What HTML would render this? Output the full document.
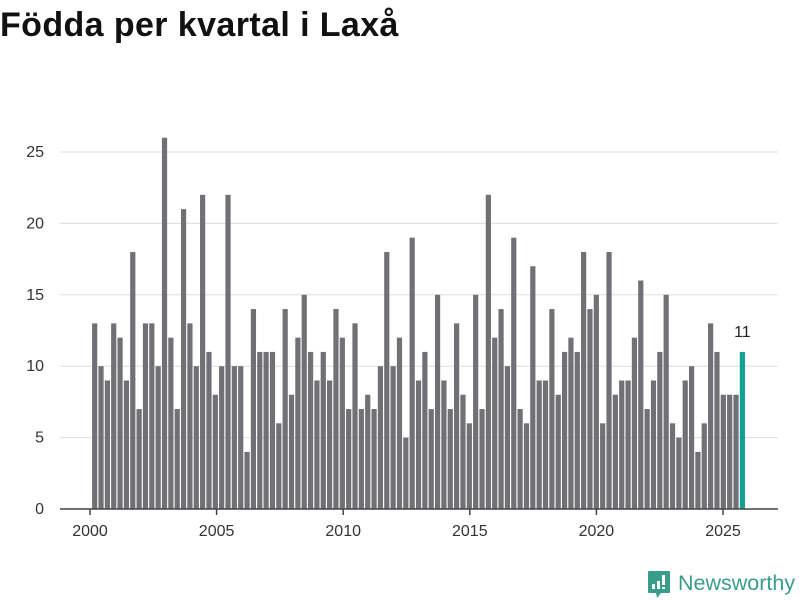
<!DOCTYPE html>
<html><head><meta charset="utf-8"><style>
body{margin:0;width:800px;height:600px;background:#fff;font-family:"Liberation Sans",sans-serif;overflow:hidden}
h1{position:absolute;left:0;top:6px;margin:0;font-size:34px;letter-spacing:0.4px;font-weight:bold;color:#111}
</style></head><body>
<h1>Födda per kvartal i Laxå</h1>
<svg id="chart" width="800" height="600" style="position:absolute;left:0;top:0"></svg>
<script>
const years = [2000,2001,2002,2003,2004,2005,2006,2007,2008,2009,2010,2011,2012,2013,2014,2015,2016,2017,2018,2019,2020,2021,2022,2023,2024,2025];
const values = [13,10,9,13, 12,9,18,7, 13,13,10,26, 12,7,21,13, 10,22,11,8, 10,22,10,10, 4,14,11,11, 11,6,14,8, 12,15,11,9, 11,9,14,12, 7,13,7,8, 7,10,18,10, 12,5,19,9, 11,7,15,9, 7,13,8,6, 15,7,22,12, 14,10,19,7, 6,17,9,9, 14,8,11,12, 11,18,14,15, 6,18,8,9, 9,12,16,7, 9,11,15,6, 5,9,10,4, 6,13,11,8, 8,8,11];
const yTicks = [0,5,10,15,20,25];
const xTicks = [2000,2005,2010,2015,2020,2025];
const NS="http://www.w3.org/2000/svg", svg=document.getElementById('chart');
const x0=90, perYear=25.32, y0=509, perUnit=14.28;
const xs=t=>x0+(t-2000)*perYear, ys=v=>y0-v*perUnit;
const bx=i=>x0+1.5+(i+0.5)*6.35;
function mk(tag,attrs){const e=document.createElementNS(NS,tag);for(const k in attrs)e.setAttribute(k,attrs[k]);svg.appendChild(e);return e;}
yTicks.forEach(t=>{
  if(t>0){const l=mk('line',{x1:60,x2:778,y1:ys(t),y2:ys(t),stroke:'#ddd','stroke-width':1});
  
  }
  const tx=mk('text',{x:44,y:ys(t)+5,'text-anchor':'end','font-size':16,fill:'#333','font-family':'Liberation Sans'});
  tx.textContent=t;
  
  
});
values.forEach((v,i)=>{
  const last=i===values.length-1;
  const r=mk('rect',{x:bx(i)-2.6,y:ys(v),width:5.2,height:v*perUnit,fill:last?'#10a096':'#717075'});
  
  
  if(last){const t=mk('text',{x:bx(i),y:ys(v)-15,'text-anchor':'middle','font-size':16,fill:'#222','font-family':'Liberation Sans'});t.textContent=v;
  
  }
});
const ax=mk('line',{x1:60,x2:778,y1:y0,y2:y0,stroke:'#444','stroke-width':1.5});


xTicks.forEach(t=>{
  const tk=mk('line',{x1:xs(t),x2:xs(t),y1:y0,y2:y0+6,stroke:'#444','stroke-width':1.5});
  
  
  const tx=mk('text',{x:xs(t),y:y0+27,'text-anchor':'middle','font-size':16,fill:'#333','font-family':'Liberation Sans'});
  tx.textContent=t;
  
  
});
</script>
<div style="position:absolute;left:647px;top:570px;display:flex;align-items:center">
<svg width="24" height="30" viewBox="0 0 24 30"><path d="M2 1h20a1 1 0 0 1 1 1v20a1 1 0 0 1-1 1H14l-4 5-1-5H2a1 1 0 0 1-1-1V2a1 1 0 0 1 1-1z" fill="#3a9d8c"/><rect x="5" y="14" width="3" height="5" fill="#fff"/><rect x="10" y="11" width="3" height="8" fill="#fff"/><rect x="15" y="5" width="3" height="10" fill="#fff"/><rect x="15" y="17" width="3" height="2" fill="#fff"/></svg>
<span style="font-size:21.5px;color:#3a9d8c;margin-left:7px;margin-top:-4px">Newsworthy</span></div>
</body></html>
